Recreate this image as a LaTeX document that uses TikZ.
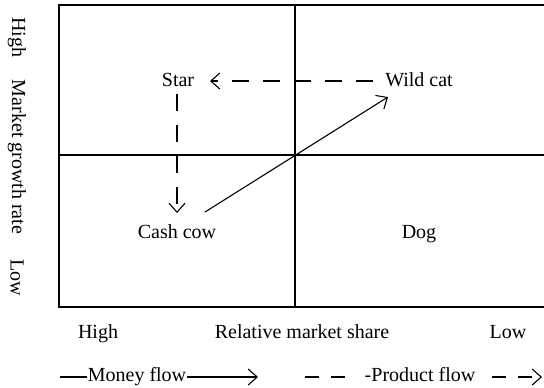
\documentclass[tikz,border=0pt]{standalone}
\usepackage{fontspec}
\setmainfont{Liberation Serif}
\usetikzlibrary{arrows.meta}
\begin{document}
\begin{tikzpicture}[x=0.5pt,y=-0.5pt,
  lbl/.style={font=\fontsize{10pt}{12pt}\selectfont, inner sep=0pt, anchor=base},
  box/.style={line width=0.75pt},
  link/.style={line width=0.55pt},
  barb/.style={-{Straight Barb[length=4.5pt,width=8pt,line width=0.55pt]}},
  dsh/.style={dash pattern=on 8.5pt off 7pt},
  ldsh/.style={dash pattern=on 7pt off 6pt}]
\useasboundingbox (0,0) rectangle (544,387);
% frame
\coordinate (tl) at (59,5);
\coordinate (tr) at (544,5);
\coordinate (bl) at (59,307);
\coordinate (br) at (544,307);
\coordinate (mt) at (295,5);
\coordinate (mb) at (295,307);
\coordinate (ml) at (59,155);
\coordinate (mr) at (544,155);
\draw[box] (tr) -- (tl) -- (bl) -- (br);
\draw[box] (mt) -- (mb);
\draw[box] (ml) -- (mr);
% quadrant labels
\node[lbl] (star) at (178,86) {Star};
\node[lbl] (wild) at (419,86) {Wild cat};
\node[lbl] (cash) at (177,238) {Cash cow};
\node[lbl] (dog) at (419,238) {Dog};
% flows
\coordinate (wl) at (373,81);
\coordinate (sr) at (210,81);
\draw[link,dsh,barb] (wl) -- (sr);
\coordinate (sb) at (177,94);
\coordinate (ct) at (177,213);
\draw[link,dsh,barb] (sb) -- (ct);
\coordinate (cs) at (205,212);
\coordinate (ws) at (388,97);
\draw[link,barb] (cs) -- (ws);
% axis labels
\node[lbl,anchor=center,rotate=-90] (yhigh) at (17,37) {High};
\node[lbl,anchor=center,rotate=-90] (ymgr) at (17,157) {Market growth rate};
\node[lbl,anchor=center,rotate=-90] (ylow) at (17,278) {Low};
\node[lbl] (xhigh) at (98,338) {High};
\node[lbl] (xrms) at (302,338) {Relative market share};
\node[lbl] (xlow) at (508,338) {Low};
% legend
\node[lbl] (money) at (137,381) {Money flow};
\coordinate (m0) at (60,377);
\coordinate (m1) at (258,377);
\draw[link] (m0) -- (money.west |- m0);
\draw[link,barb] (money.east |- m1) -- (m1);
\node[lbl] (prod) at (420,381) {-Product flow};
\coordinate (p0) at (305,377);
\coordinate (p1) at (350,377);
\coordinate (p2) at (492,377);
\coordinate (p3) at (542,377);
\draw[link,ldsh] (p0) -- (p1);
\draw[link,ldsh,barb] (p2) -- (p3);
\end{tikzpicture}
\end{document}
